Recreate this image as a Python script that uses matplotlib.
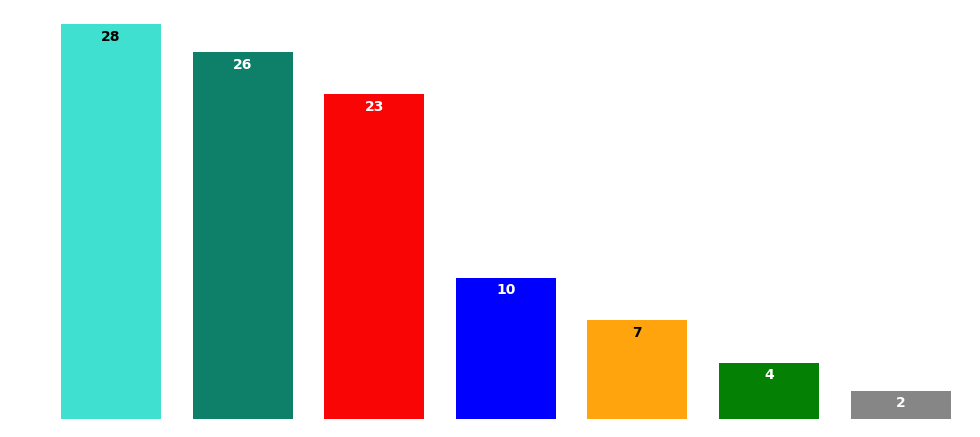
import matplotlib.pyplot as plt

# values
values = [28, 26, 23, 10, 7, 4, 2]
colors = ['#40E0D0', '#0E7F68', '#FA0505', '#0000FF', '#FFA40C', '#048004', '#868686']
label_colors = ['black', 'white', 'white', 'white', 'black', 'white', 'white']

fig = plt.figure(figsize=(9.8, 4.37), dpi=100)
ax = fig.add_axes([0.0461, 0.0412, 0.940, 0.904])

x = list(range(len(values)))
bars = ax.bar(x, values, width=0.76, color=colors)

for b, v, c in zip(bars, values, label_colors):
    ax.annotate(str(v), (b.get_x() + b.get_width() / 2, v),
                xytext=(0, -4), textcoords='offset points',
                ha='center', va='top', fontsize=10, fontweight='bold',
                color=c, annotation_clip=False)

ax.set_xlim(-0.5, len(values) - 0.5)
ax.set_ylim(0, 28)
ax.axis('off')

fig.savefig('out.png', dpi=100)
